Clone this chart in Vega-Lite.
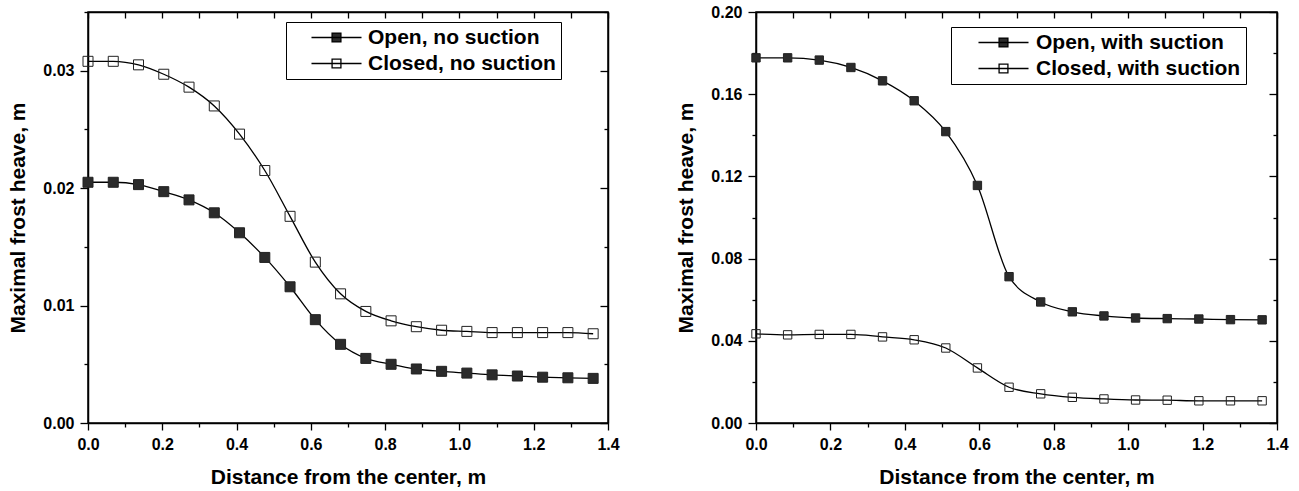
{
  "$schema": "https://vega.github.io/schema/vega-lite/v6.json",
  "background": "white",
  "padding": {"left": 7, "top": 3, "right": 5, "bottom": 0},
  "bounds": "flush",
  "spacing": 148,
  "datasets": {
    "left": [
      {"x": 0, "y": 0.0205, "series": "Open, no suction"},
      {"x": 0.068, "y": 0.0205, "series": "Open, no suction"},
      {"x": 0.136, "y": 0.0203, "series": "Open, no suction"},
      {"x": 0.204, "y": 0.0197, "series": "Open, no suction"},
      {"x": 0.272, "y": 0.0190, "series": "Open, no suction"},
      {"x": 0.34, "y": 0.0179, "series": "Open, no suction"},
      {"x": 0.408, "y": 0.0162, "series": "Open, no suction"},
      {"x": 0.476, "y": 0.0141, "series": "Open, no suction"},
      {"x": 0.544, "y": 0.0116, "series": "Open, no suction"},
      {"x": 0.612, "y": 0.0088, "series": "Open, no suction"},
      {"x": 0.68, "y": 0.0067, "series": "Open, no suction"},
      {"x": 0.748, "y": 0.0055, "series": "Open, no suction"},
      {"x": 0.816, "y": 0.0050, "series": "Open, no suction"},
      {"x": 0.884, "y": 0.0046, "series": "Open, no suction"},
      {"x": 0.952, "y": 0.0044, "series": "Open, no suction"},
      {"x": 1.02, "y": 0.00425, "series": "Open, no suction"},
      {"x": 1.088, "y": 0.0041, "series": "Open, no suction"},
      {"x": 1.156, "y": 0.0040, "series": "Open, no suction"},
      {"x": 1.224, "y": 0.0039, "series": "Open, no suction"},
      {"x": 1.292, "y": 0.00385, "series": "Open, no suction"},
      {"x": 1.36, "y": 0.0038, "series": "Open, no suction"},
      {"x": 0, "y": 0.0308, "series": "Closed, no suction"},
      {"x": 0.068, "y": 0.0308, "series": "Closed, no suction"},
      {"x": 0.136, "y": 0.0305, "series": "Closed, no suction"},
      {"x": 0.204, "y": 0.0297, "series": "Closed, no suction"},
      {"x": 0.272, "y": 0.0286, "series": "Closed, no suction"},
      {"x": 0.34, "y": 0.0270, "series": "Closed, no suction"},
      {"x": 0.408, "y": 0.0246, "series": "Closed, no suction"},
      {"x": 0.476, "y": 0.0215, "series": "Closed, no suction"},
      {"x": 0.544, "y": 0.0176, "series": "Closed, no suction"},
      {"x": 0.612, "y": 0.0137, "series": "Closed, no suction"},
      {"x": 0.68, "y": 0.0110, "series": "Closed, no suction"},
      {"x": 0.748, "y": 0.0095, "series": "Closed, no suction"},
      {"x": 0.816, "y": 0.0087, "series": "Closed, no suction"},
      {"x": 0.884, "y": 0.0082, "series": "Closed, no suction"},
      {"x": 0.952, "y": 0.0079, "series": "Closed, no suction"},
      {"x": 1.02, "y": 0.0078, "series": "Closed, no suction"},
      {"x": 1.088, "y": 0.0077, "series": "Closed, no suction"},
      {"x": 1.156, "y": 0.0077, "series": "Closed, no suction"},
      {"x": 1.224, "y": 0.0077, "series": "Closed, no suction"},
      {"x": 1.292, "y": 0.0077, "series": "Closed, no suction"},
      {"x": 1.36, "y": 0.0076, "series": "Closed, no suction"}
    ],
    "right": [
      {"x": 0, "y": 0.1777, "series": "Open, with suction"},
      {"x": 0.085, "y": 0.1777, "series": "Open, with suction"},
      {"x": 0.17, "y": 0.1766, "series": "Open, with suction"},
      {"x": 0.255, "y": 0.173, "series": "Open, with suction"},
      {"x": 0.34, "y": 0.1665, "series": "Open, with suction"},
      {"x": 0.425, "y": 0.1568, "series": "Open, with suction"},
      {"x": 0.51, "y": 0.1418, "series": "Open, with suction"},
      {"x": 0.595, "y": 0.1156, "series": "Open, with suction"},
      {"x": 0.68, "y": 0.0712, "series": "Open, with suction"},
      {"x": 0.765, "y": 0.0589, "series": "Open, with suction"},
      {"x": 0.85, "y": 0.0541, "series": "Open, with suction"},
      {"x": 0.935, "y": 0.0521, "series": "Open, with suction"},
      {"x": 1.02, "y": 0.0511, "series": "Open, with suction"},
      {"x": 1.105, "y": 0.0508, "series": "Open, with suction"},
      {"x": 1.19, "y": 0.0506, "series": "Open, with suction"},
      {"x": 1.275, "y": 0.0503, "series": "Open, with suction"},
      {"x": 1.36, "y": 0.0502, "series": "Open, with suction"},
      {"x": 0, "y": 0.0434, "series": "Closed, with suction"},
      {"x": 0.085, "y": 0.0429, "series": "Closed, with suction"},
      {"x": 0.17, "y": 0.0431, "series": "Closed, with suction"},
      {"x": 0.255, "y": 0.0431, "series": "Closed, with suction"},
      {"x": 0.34, "y": 0.0419, "series": "Closed, with suction"},
      {"x": 0.425, "y": 0.0405, "series": "Closed, with suction"},
      {"x": 0.51, "y": 0.0365, "series": "Closed, with suction"},
      {"x": 0.595, "y": 0.0268, "series": "Closed, with suction"},
      {"x": 0.68, "y": 0.0174, "series": "Closed, with suction"},
      {"x": 0.765, "y": 0.0142, "series": "Closed, with suction"},
      {"x": 0.85, "y": 0.0125, "series": "Closed, with suction"},
      {"x": 0.935, "y": 0.0117, "series": "Closed, with suction"},
      {"x": 1.02, "y": 0.0112, "series": "Closed, with suction"},
      {"x": 1.105, "y": 0.0111, "series": "Closed, with suction"},
      {"x": 1.19, "y": 0.0108, "series": "Closed, with suction"},
      {"x": 1.275, "y": 0.0108, "series": "Closed, with suction"},
      {"x": 1.36, "y": 0.0108, "series": "Closed, with suction"}
    ]
  },
  "hconcat": [
    {
      "width": 520,
      "height": 411,
      "data": {"name": "left"},
      "encoding": {
        "x": {"field": "x", "type": "quantitative", "scale": {"domain": [0, 1.4], "nice": false, "zero": false}},
        "y": {"field": "y", "type": "quantitative", "scale": {"domain": [0, 0.035], "nice": false}}
      },
      "layer": [
        {
          "mark": {"type": "line", "interpolate": "monotone", "color": "black", "strokeWidth": 1.3},
          "encoding": {
            "x": {"field": "x", "type": "quantitative", "title": "Distance from the center, m",
              "axis": {"orient": "bottom", "values": [0, 0.1, 0.2, 0.3, 0.4, 0.5, 0.6, 0.7, 0.8, 0.9, 1.0, 1.1, 1.2, 1.3, 1.4],
                "labelExpr": "round(datum.value*10)%2==0 ? format(datum.value,'.1f') : ''",
                "tickSize": {"condition": {"test": "round(datum.value*10)%2==0", "value": 7}, "value": 4}}},
            "y": {"field": "y", "type": "quantitative", "title": "Maximal frost heave, m",
              "axis": {"orient": "left", "values": [0, 0.005, 0.01, 0.015, 0.02, 0.025, 0.03, 0.035],
                "labelExpr": "round(datum.value*1000)%10==0 ? format(datum.value,'.2f') : ''",
                "tickSize": {"condition": {"test": "round(datum.value*1000)%10==0", "value": 8}, "value": 4}}},
            "detail": {"field": "series"}
          }
        },
        {
          "mark": {"type": "square", "size": 100, "stroke": "#222222", "strokeWidth": 1, "opacity": 1},
          "encoding": {
            "x": {"field": "x", "type": "quantitative", "axis": {"orient": "top", "labels": false, "title": null, "values": [0, 0.1, 0.2, 0.3, 0.4, 0.5, 0.6, 0.7, 0.8, 0.9, 1.0, 1.1, 1.2, 1.3, 1.4], "tickSize": -6}},
            "y": {"field": "y", "type": "quantitative", "axis": {"orient": "right", "labels": false, "title": null, "values": [0, 0.005, 0.01, 0.015, 0.02, 0.025, 0.03, 0.035], "tickSize": {"condition": {"test": "round(datum.value*1000)%10==0", "value": -8}, "value": -4}}},
            "fill": {"field": "series", "type": "nominal",
              "scale": {"domain": ["Open, no suction", "Closed, no suction"], "range": ["#2b2b2b", "transparent"]},
              "legend": {"title": null, "orient": "none", "legendX": 198, "legendY": 10,
                "strokeColor": "black", "fillColor": "white", "padding": 5,
                "symbolType": "M-3,0H3M-0.53,-0.53H0.53V0.53H-0.53Z", "symbolSize": 278,
                "symbolOffset": 35, "labelOffset": 21, "rowPadding": 4,
                "symbolStrokeColor": "black", "symbolStrokeWidth": 1.3,
                "labelFont": "Liberation Sans", "labelFontSize": 21, "labelFontWeight": "bold", "labelColor": "black", "labelLimit": 400}}
          }
        }
      ],
      "resolve": {"axis": {"x": "independent", "y": "independent"}}
    },
    {
      "width": 521,
      "height": 411,
      "data": {"name": "right"},
      "encoding": {
        "x": {"field": "x", "type": "quantitative", "scale": {"domain": [0, 1.4], "nice": false, "zero": false}},
        "y": {"field": "y", "type": "quantitative", "scale": {"domain": [0, 0.2], "nice": false}}
      },
      "layer": [
        {
          "mark": {"type": "line", "interpolate": "monotone", "color": "black", "strokeWidth": 1.3},
          "encoding": {
            "x": {"field": "x", "type": "quantitative", "title": "Distance from the center, m",
              "axis": {"orient": "bottom", "values": [0, 0.1, 0.2, 0.3, 0.4, 0.5, 0.6, 0.7, 0.8, 0.9, 1.0, 1.1, 1.2, 1.3, 1.4],
                "labelExpr": "round(datum.value*10)%2==0 ? format(datum.value,'.1f') : ''",
                "tickSize": {"condition": {"test": "round(datum.value*10)%2==0", "value": 7}, "value": 4}}},
            "y": {"field": "y", "type": "quantitative", "title": "Maximal frost heave, m",
              "axis": {"orient": "left", "values": [0, 0.02, 0.04, 0.06, 0.08, 0.1, 0.12, 0.14, 0.16, 0.18, 0.2],
                "labelExpr": "round(datum.value*100)%4==0 ? format(datum.value,'.2f') : ''",
                "tickSize": {"condition": {"test": "round(datum.value*100)%4==0", "value": 8}, "value": 4}}},
            "detail": {"field": "series"}
          }
        },
        {
          "mark": {"type": "square", "size": 70, "stroke": "#222222", "strokeWidth": 1, "opacity": 1},
          "encoding": {
            "x": {"field": "x", "type": "quantitative", "axis": {"orient": "top", "labels": false, "title": null, "values": [0, 0.1, 0.2, 0.3, 0.4, 0.5, 0.6, 0.7, 0.8, 0.9, 1.0, 1.1, 1.2, 1.3, 1.4], "tickSize": -6}},
            "y": {"field": "y", "type": "quantitative", "axis": {"orient": "right", "labels": false, "title": null, "values": [0, 0.02, 0.04, 0.06, 0.08, 0.1, 0.12, 0.14, 0.16, 0.18, 0.2], "tickSize": {"condition": {"test": "round(datum.value*100)%4==0", "value": -8}, "value": -4}}},
            "fill": {"field": "series", "type": "nominal",
              "scale": {"domain": ["Open, with suction", "Closed, with suction"], "range": ["#2b2b2b", "transparent"]},
              "legend": {"title": null, "orient": "none", "legendX": 195, "legendY": 15,
                "strokeColor": "black", "fillColor": "white", "padding": 5,
                "symbolType": "M-3,0H3M-0.53,-0.53H0.53V0.53H-0.53Z", "symbolSize": 278,
                "symbolOffset": 37, "labelOffset": 22, "rowPadding": 4,
                "symbolStrokeColor": "black", "symbolStrokeWidth": 1.3,
                "labelFont": "Liberation Sans", "labelFontSize": 21, "labelFontWeight": "bold", "labelColor": "black", "labelLimit": 400}}
          }
        }
      ],
      "resolve": {"axis": {"x": "independent", "y": "independent"}}
    }
  ],
  "resolve": {"scale": {"fill": "independent", "x": "independent", "y": "independent"}, "legend": {"fill": "independent"}},
  "config": {
    "font": "Liberation Sans",
    "view": {"stroke": "black", "strokeWidth": 1.5},
    "axis": {
      "domainColor": "black", "domainWidth": 1.5, "tickColor": "black", "tickWidth": 1.3,
      "grid": false, "labelFont": "Liberation Sans", "labelFontSize": 16, "labelFontWeight": "bold",
      "labelColor": "black", "labelPadding": 6, "labelFlush": false, "labelOverlap": false, "labelBound": false,
      "titleFont": "Liberation Sans", "titleFontSize": 21, "titleFontWeight": "bold", "titleColor": "black",
      "titlePadding": 14
    }
  }
}
